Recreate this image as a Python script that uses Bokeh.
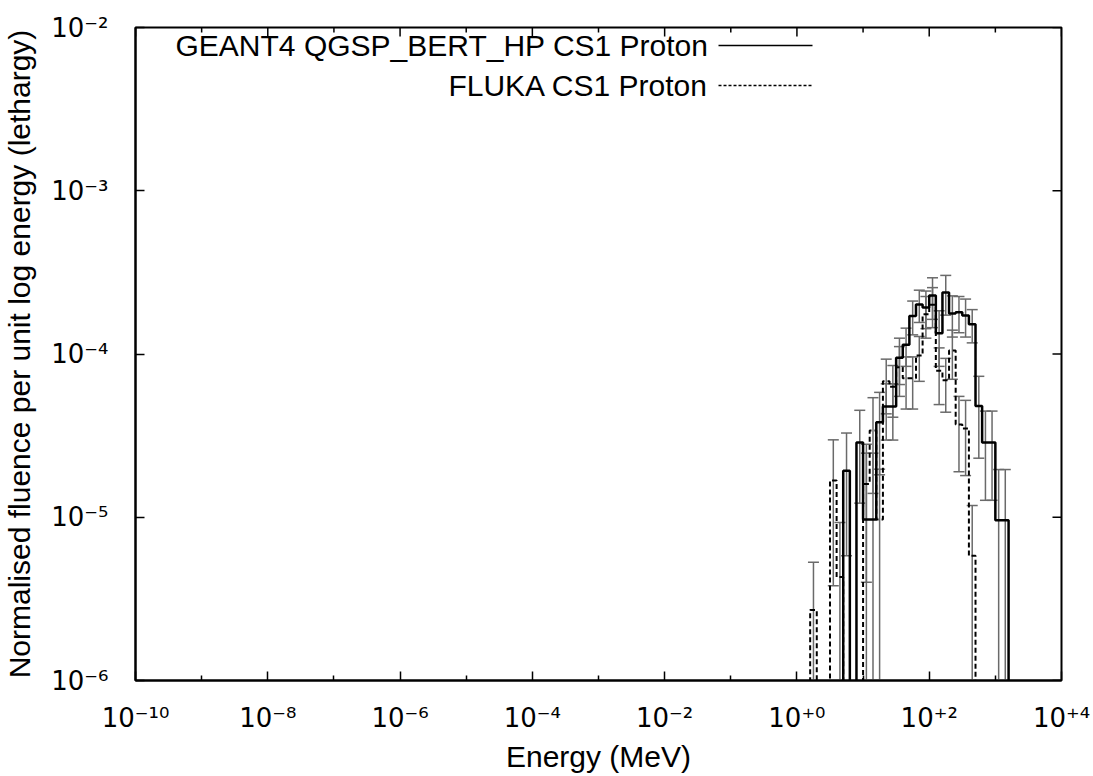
import numpy as np
from bokeh.plotting import figure
from bokeh.models import FixedTicker, CustomJSTickFormatter, Label, PolyAnnotation, Range1d
from bokeh.embed import file_html
from bokeh.resources import INLINE

# ---------------- data ----------------
# histogram bin edges, log10(E / MeV)
bin_edges_log = [0.2, 0.3, 0.4, 0.5, 0.6, 0.7, 0.8, 0.9, 1.0, 1.1, 1.2, 1.3, 1.4, 1.5, 1.6, 1.7,
                 1.8, 1.9, 2.0, 2.1, 2.2, 2.3, 2.4, 2.5, 2.6, 2.7, 2.8, 2.9, 3.0, 3.1, 3.2, 3.3]

geant4_values = [0, 0, 0, 0, 0, 1.93e-5, 0, 2.87e-5, 9.7e-6, 9.7e-6, 3.82e-5, 4.77e-5, 4.77e-5,
                 9.5e-5, 1.14e-4, 1.71e-4, 2.01e-4, 1.93e-4, 2.28e-4, 1.34e-4, 2.38e-4, 1.77e-4,
                 1.80e-4, 1.72e-4, 1.52e-4, 4.8e-5, 2.87e-5, 2.87e-5, 9.6e-6, 9.6e-6, 0]
geant4_errors = [0, 0, 0, 0, 0, 1.35e-5, 0, 1.65e-5, 1.5e-5, 1.5e-5, 2.0e-5, 1.8e-5, 1.8e-5,
                 3.0e-5, 3.0e-5, 4.0e-5, 4.5e-5, 5.0e-5, 6.5e-5, 5.0e-5, 6.5e-5, 5.0e-5,
                 4.5e-5, 4.5e-5, 3.5e-5, 2.5e-5, 1.6e-5, 1.6e-5, 1.0e-5, 1.0e-5, 0]

fluka_values = [2.7e-6, 0, 0, 1.68e-5, 4.3e-6, 0, 0, 0, 1.6e-5, 3.4e-5, 9.7e-6, 6.8e-5, 6.3e-5,
                8.3e-5, 7.1e-5, 7.1e-5, 9.8e-5, 1.75e-4, 2.0e-4, 7.9e-5, 6.9e-5, 1.05e-4,
                3.7e-5, 3.5e-5, 5.8e-6, 0, 0, 0, 0, 0, 0]
fluka_errors = [2.6e-6, 0, 0, 1.3e-5, 5e-6, 0, 0, 0, 1.2e-5, 2.0e-5, 1.0e-5, 2.5e-5, 2.2e-5,
                2.8e-5, 2.5e-5, 2.5e-5, 3.0e-5, 5.0e-5, 5.5e-5, 3.0e-5, 2.5e-5, 3.5e-5,
                1.8e-5, 1.7e-5, 6e-6, 0, 0, 0, 0, 0, 0]

x_major_exponents = [-10, -8, -6, -4, -2, 0, 2, 4]
x_minor_exponents = [-9, -7, -5, -3, -1, 1, 3]
y_major_exponents = [-6, -5, -4, -3, -2]

x_title = "Energy (MeV)"
y_title = "Normalised fluence per unit log energy (lethargy)"
legend_labels = ["GEANT4 QGSP_BERT_HP CS1 Proton", "FLUKA CS1 Proton"]

# ---------------- layout ----------------
W, H = 1093, 776
ML, MR, MT, MB = 135, 32, 27, 96
FONT = "Liberation Sans"
TICK_FONT = "DejaVu Sans"
FS = "30px"
TFS = "26px"
x_lo, x_hi = 1e-10, 1e4
y_lo, y_hi = 1e-6, 1e-2
floor = 1e-9
frame_w = W - ML - MR
frame_h = H - MT - MB

p = figure(width=W, height=H, x_axis_type="log", y_axis_type="log",
           x_range=Range1d(x_lo, x_hi), y_range=Range1d(y_lo, y_hi),
           output_backend="svg", toolbar_location=None,
           min_border_left=ML, min_border_right=MR, min_border_top=MT, min_border_bottom=MB)
p.xgrid.visible = False
p.ygrid.visible = False
p.outline_line_color = "black"
p.outline_line_width = 2
p.background_fill_color = "white"
p.border_fill_color = "white"

# tick labels as 10 with a superscript exponent (gnuplot style, explicit sign)
fmt = CustomJSTickFormatter(code="""
const e = Math.round(Math.log10(tick));
const sup = {"0":"\u2070","1":"\u00b9","2":"\u00b2","3":"\u00b3","4":"\u2074","5":"\u2075",
             "6":"\u2076","7":"\u2077","8":"\u2078","9":"\u2079","-":"\u207b","+":"\u207a"};
const s = (e < 0 ? "-" : "+") + String(Math.abs(e));
return "10" + s.split("").map(c => sup[c]).join("");
""")

xt_major = [10.0 ** e for e in x_major_exponents]
xt_minor = [10.0 ** e for e in x_minor_exponents]
yt_major = [10.0 ** e for e in y_major_exponents]
TL, TLm = 9, 5

p.xaxis.ticker = FixedTicker(ticks=xt_major, minor_ticks=xt_minor)
p.yaxis.ticker = FixedTicker(ticks=yt_major, minor_ticks=[])
for ax in (p.xaxis[0], p.yaxis[0]):
    ax.formatter = fmt
    ax.major_tick_in = TL
    ax.major_tick_out = 0
    ax.minor_tick_in = TLm
    ax.minor_tick_out = 0
    ax.axis_line_width = 2
    ax.major_tick_line_width = 1.5
    ax.minor_tick_line_width = 1.5
    ax.major_label_text_font = TICK_FONT
    ax.major_label_text_font_size = TFS
    ax.major_label_text_color = "black"
    ax.axis_label_text_font = FONT
    ax.axis_label_text_font_size = FS
    ax.axis_label_text_font_style = "normal"
    ax.axis_label_text_color = "black"
p.xaxis.major_label_standoff = 22
p.yaxis.major_label_standoff = 27
p.xaxis.axis_label = x_title
p.yaxis.axis_label = y_title
p.xaxis.axis_label_standoff = 4
p.yaxis.axis_label_standoff = 12

# mirrored ticks on the top and right edges (lengths in pixels)
px_per_dec_x = frame_w / (np.log10(x_hi) - np.log10(x_lo))
px_per_dec_y = frame_h / (np.log10(y_hi) - np.log10(y_lo))
def top_ticks(vals, length):
    n = len(vals)
    dn = y_hi / 10 ** (length / px_per_dec_y)
    p.segment(x0=vals, y0=[y_hi] * n, x1=vals, y1=[dn] * n, line_color="black", line_width=1.5)
def right_ticks(vals, length):
    n = len(vals)
    lf = x_hi / 10 ** (length / px_per_dec_x)
    p.segment(x0=[x_hi] * n, y0=vals, x1=[lf] * n, y1=vals, line_color="black", line_width=1.5)
top_ticks(xt_major, TL)
top_ticks(xt_minor, TLm)
right_ticks(yt_major, TL)

# ---------------- histograms ----------------
edges = np.array(bin_edges_log)
centers = 10 ** ((edges[:-1] + edges[1:]) / 2)

def step_xy(vals):
    xs, ys = [], []
    prev = floor
    for i, v in enumerate(vals):
        vv = v if v > 0 else floor
        xs += [10 ** edges[i], 10 ** edges[i]]
        ys += [prev, vv]
        prev = vv
    xs += [10 ** edges[-1], 10 ** edges[-1]]
    ys += [prev, floor]
    return xs, ys

ERR_C = "#6a6a6a"
def errorbars(vals, errs):
    v = np.array(vals, dtype=float)
    e = np.array(errs, dtype=float)
    m = v > 0
    xc = centers[m]
    hi = v[m] + e[m]
    lo = v[m] - e[m]
    lo = np.where(lo > 0, lo, floor)
    p.segment(x0=xc, y0=lo, x1=xc, y1=hi, line_color=ERR_C, line_width=1.5)
    p.scatter(x=xc, y=hi, marker="dash", size=11, line_color=ERR_C, line_width=1.5)
    p.scatter(x=xc, y=lo, marker="dash", size=11, line_color=ERR_C, line_width=1.5)

errorbars(geant4_values, geant4_errors)
errorbars(fluka_values, fluka_errors)

gx, gy = step_xy(geant4_values)
fx, fy = step_xy(fluka_values)
p.line(fx, fy, line_color="black", line_width=2, line_dash="5 3")
p.line(gx, gy, line_color="black", line_width=2.5)

# ---------------- legend (gnuplot style: text, then line sample) ----------------
rows_y = [frame_h - 18, frame_h - 58]
text_right = 573
for name, yy, dash, lw in zip(legend_labels, rows_y, ["solid", "3 2"], [1.6, 1.3]):
    p.add_layout(Label(x=text_right, y=yy, x_units="screen", y_units="screen", text=name,
                       text_align="right", text_baseline="middle", text_font=FONT,
                       text_font_size=FS, text_color="black"))
    p.add_layout(PolyAnnotation(xs=[text_right + 10, text_right + 104, text_right + 10],
                                ys=[yy, yy, yy], xs_units="screen", ys_units="screen",
                                fill_alpha=0, line_color="black", line_alpha=1.0,
                                line_width=lw, line_dash=dash))

open("out.html", "w").write(file_html(p, INLINE))
